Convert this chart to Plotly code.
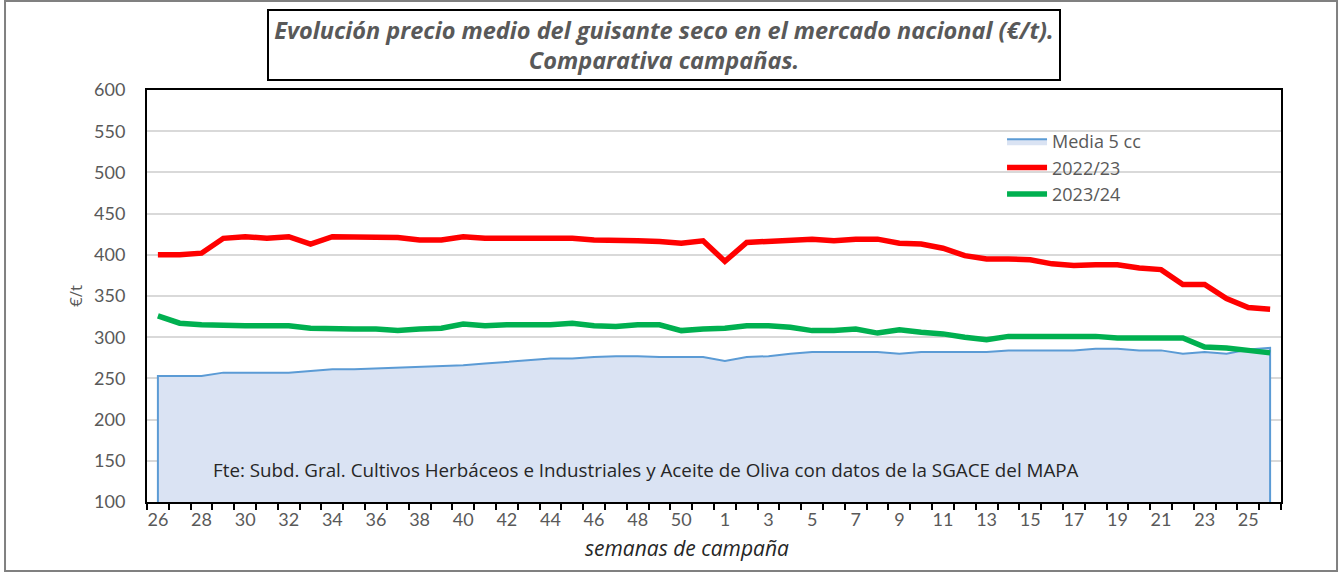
import plotly.graph_objects as go

# Campaign weeks: 26..51 of the first year, then 1..26 of the next
weeks = [str(w) for w in range(26, 52)] + [str(w) for w in range(1, 27)]

media_5cc = [253, 253, 253, 257, 257, 257, 257, 259, 261, 261, 262, 263, 264, 265, 266, 268,
             270, 272, 274, 274, 276, 277, 277, 276, 276, 276, 271, 276, 277, 280, 282, 282,
             282, 282, 280, 282, 282, 282, 282, 284, 284, 284, 284, 286, 286, 284, 284, 280,
             282, 280, 285, 287]

c2022_23 = [400, 400, 402, 420, 422, 420, 422, 413, 422, 422, 422, 421, 418, 418, 422, 420,
            420, 420, 420, 420, 418, 418, 417, 416, 414, 417, 392, 415, 416, 417, 419, 417,
            419, 419, 414, 413, 408, 399, 395, 395, 394, 389, 387, 388, 388, 384, 382, 364,
            364, 347, 336, 334]

c2023_24 = [326, 317, 315, 314, 314, 314, 314, 311, 310, 310, 310, 308, 310, 311, 316, 314,
            315, 315, 315, 317, 314, 313, 315, 315, 308, 310, 311, 314, 314, 312, 308, 308,
            310, 305, 309, 306, 304, 300, 297, 301, 301, 301, 301, 301, 299, 299, 299, 299,
            288, 287, 284, 281]

y_ticks = [100, 150, 200, 250, 300, 350, 400, 450, 500, 550, 600]

TICK_FONT = "Lato"
TEXT_FONT = "Open Sans"
GREY = "#595959"
DARK = "#262626"

idx = list(range(len(weeks)))
label_idx = idx[::2]
label_txt = [weeks[i] for i in label_idx]

fig = go.Figure()

# 5-campaign average as a closed area down to the baseline
area_x = [idx[0]] + idx + [idx[-1]]
area_y = [0] + media_5cc + [0]
fig.add_trace(go.Scatter(
    x=area_x, y=area_y, name="Media 5 cc", mode="lines",
    fill="toself", fillcolor="#dae3f3",
    line=dict(color="#5b9bd5", width=2),
))
fig.add_trace(go.Scatter(
    x=idx, y=c2022_23, name="2022/23", mode="lines",
    line=dict(color="#ff0000", width=5.5),
))
fig.add_trace(go.Scatter(
    x=idx, y=c2023_24, name="2023/24", mode="lines",
    line=dict(color="#00b050", width=5.5),
))

fig.update_layout(
    width=1339, height=573,
    margin=dict(l=147, r=58, t=90, b=71),
    paper_bgcolor="white", plot_bgcolor="white",
    font=dict(family=TICK_FONT, color=GREY, size=18),
    showlegend=True,
    legend=dict(
        x=0.754, y=0.92, xanchor="left", yanchor="top",
        bgcolor="rgba(0,0,0,0)",
        font=dict(size=18, color=GREY, family=TEXT_FONT),
        tracegroupgap=0, itemwidth=40,
    ),
    xaxis=dict(
        range=[-0.5, len(weeks) - 0.5],
        tickvals=label_idx, ticktext=label_txt,
        ticks="", showgrid=False, zeroline=False,
        showline=True, linecolor="black", linewidth=2, mirror=True,
        tickfont=dict(size=18, color=GREY),
        minor=dict(ticks="outside", tick0=-0.5, dtick=1, ticklen=6,
                   tickwidth=2, tickcolor="black", showgrid=False),
    ),
    yaxis=dict(
        range=[100, 600], tickvals=y_ticks,
        showgrid=True, gridcolor="#d9d9d9", gridwidth=1.5, zeroline=False,
        showline=True, linecolor="black", linewidth=2, mirror=True,
        ticks="", ticklabelstandoff=16,
        tickfont=dict(size=18, color=GREY),
        title=dict(text="€/t", standoff=7,
                   font=dict(size=17, color=GREY, family=TEXT_FONT)),
    ),
)

# x-axis title, placed just below the tick labels
fig.add_annotation(
    xref="paper", yref="paper", x=0.476, y=-0.072,
    xanchor="center", yanchor="top",
    text="<i>semanas de campaña</i>", showarrow=False,
    font=dict(size=21, color=DARK, family=TEXT_FONT),
)

# Title inside a framed box above the plot
fig.add_annotation(
    xref="paper", yref="paper", x=0.456, y=1.110,
    xanchor="center", yanchor="middle",
    text="<b><i>Evolución precio medio del guisante seco en el mercado nacional (€/t).<br>"
         "Comparativa campañas.</i></b>",
    showarrow=False, align="center",
    font=dict(size=23.5, color=GREY, family=TEXT_FONT),
    width=790, height=68, bgcolor="white",
    bordercolor="black", borderwidth=2, borderpad=0,
)

# Source note
fig.add_annotation(
    xref="paper", yref="paper", x=0.0564, y=0.078,
    xanchor="left", yanchor="middle",
    text="Fte: Subd. Gral. Cultivos Herbáceos e Industriales y Aceite de Oliva con datos de la SGACE del MAPA",
    showarrow=False, font=dict(size=18.8, color=DARK, family=TEXT_FONT),
)

# Outer frame around the whole chart
fig.add_shape(
    type="rect", xref="paper", yref="paper",
    x0=-0.1252, x1=1.0494, y0=-0.1675, y1=1.216,
    line=dict(color="#808080", width=2), fillcolor="rgba(0,0,0,0)", layer="above",
)

fig.write_html("out.html")
